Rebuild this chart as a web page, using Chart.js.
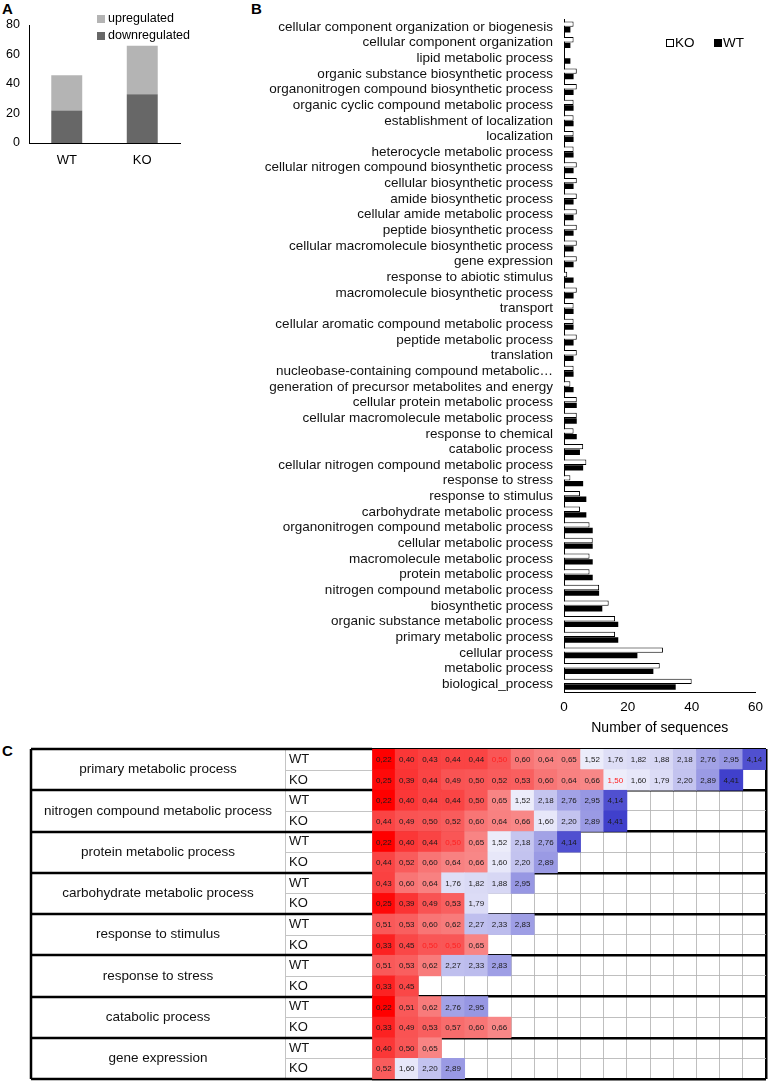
<!DOCTYPE html>
<html>
<head>
<meta charset="utf-8">
<script src="https://cdn.jsdelivr.net/npm/chart.js@4.4.1/dist/chart.umd.min.js"></script>
<style>
  body { margin: 0; background: #fff; }
  #page { position: relative; width: 770px; height: 1081px; overflow: hidden; font-family: "Liberation Sans", Arial, sans-serif; }
  .panel { position: absolute; font-weight: bold; font-size: 15px; color: #000; }
  canvas { position: absolute; }
</style>
</head>
<body>
<div id="page">
  <div class="panel" style="left:2px;top:0px">A</div>
  <div class="panel" style="left:251px;top:0px">B</div>
  <div class="panel" style="left:2px;top:742px">C</div>
  <canvas id="chartA" width="200" height="175" style="left:0;top:0"></canvas>
  <canvas id="chartB" width="540" height="740" style="left:230px;top:0"></canvas>
  <canvas id="chartC" width="770" height="341" style="left:0;top:740px"></canvas>
</div>
<script>
// panel A
const groupsA = ["WT", "KO"];
const downregulated = [22, 33];
const upregulated = [24, 33];

// panel B, top to bottom
const processesB = [
  "cellular component organization or biogenesis",
  "cellular component organization",
  "lipid metabolic process",
  "organic substance biosynthetic process",
  "organonitrogen compound biosynthetic process",
  "organic cyclic compound metabolic process",
  "establishment of localization",
  "localization",
  "heterocycle metabolic process",
  "cellular nitrogen compound biosynthetic process",
  "cellular biosynthetic process",
  "amide biosynthetic process",
  "cellular amide metabolic process",
  "peptide biosynthetic process",
  "cellular macromolecule biosynthetic process",
  "gene expression",
  "response to abiotic stimulus",
  "macromolecule biosynthetic process",
  "transport",
  "cellular aromatic compound metabolic process",
  "peptide metabolic process",
  "translation",
  "nucleobase-containing compound metabolic\u2026",
  "generation of precursor metabolites and energy",
  "cellular protein metabolic process",
  "cellular macromolecule metabolic process",
  "response to chemical",
  "catabolic process",
  "cellular nitrogen compound metabolic process",
  "response to stress",
  "response to stimulus",
  "carbohydrate metabolic process",
  "organonitrogen compound metabolic process",
  "cellular metabolic process",
  "macromolecule metabolic process",
  "protein metabolic process",
  "nitrogen compound metabolic process",
  "biosynthetic process",
  "organic substance metabolic process",
  "primary metabolic process",
  "cellular process",
  "metabolic process",
  "biological_process"
];
const koCounts = [3, 3, 0, 4, 4, 3, 3, 3, 3, 4, 4, 4, 4, 4, 4, 4, 1, 4, 3, 3, 4, 4, 3, 2, 4, 4, 3, 6, 7, 2, 5, 5, 8, 9, 8, 8, 11, 14, 16, 16, 31, 30, 40];
const wtCounts = [2, 2, 2, 3, 3, 3, 3, 3, 3, 3, 3, 3, 3, 3, 3, 3, 3, 3, 3, 3, 3, 3, 3, 3, 4, 4, 4, 5, 6, 6, 7, 7, 9, 9, 9, 9, 11, 12, 17, 17, 23, 28, 35];

// panel C
const groupNames = [
  "primary metabolic process",
  "nitrogen compound metabolic process",
  "protein metabolic process",
  "carbohydrate metabolic process",
  "response to stimulus",
  "response to stress",
  "catabolic process",
  "gene expression"
];
const arms = ["WT", "KO"];
const primaryWT = [0.22, 0.40, 0.43, 0.44, 0.44, 0.50, 0.60, 0.64, 0.65, 1.52, 1.76, 1.82, 1.88, 2.18, 2.76, 2.95, 4.14];
const primaryKO = [0.25, 0.39, 0.44, 0.49, 0.50, 0.52, 0.53, 0.60, 0.64, 0.66, 1.50, 1.60, 1.79, 2.20, 2.89, 4.41];
const nitrogenWT = [0.22, 0.40, 0.44, 0.44, 0.50, 0.65, 1.52, 2.18, 2.76, 2.95, 4.14];
const nitrogenKO = [0.44, 0.49, 0.50, 0.52, 0.60, 0.64, 0.66, 1.60, 2.20, 2.89, 4.41];
const proteinWT = [0.22, 0.40, 0.44, 0.50, 0.65, 1.52, 2.18, 2.76, 4.14];
const proteinKO = [0.44, 0.52, 0.60, 0.64, 0.66, 1.60, 2.20, 2.89];
const carbohydrateWT = [0.43, 0.60, 0.64, 1.76, 1.82, 1.88, 2.95];
const carbohydrateKO = [0.25, 0.39, 0.49, 0.53, 1.79];
const stimulusWT = [0.51, 0.53, 0.60, 0.62, 2.27, 2.33, 2.83];
const stimulusKO = [0.33, 0.45, 0.50, 0.50, 0.65];
const stressWT = [0.51, 0.53, 0.62, 2.27, 2.33, 2.83];
const stressKO = [0.33, 0.45];
const catabolicWT = [0.22, 0.51, 0.62, 2.76, 2.95];
const catabolicKO = [0.33, 0.49, 0.53, 0.57, 0.60, 0.66];
const geneExprWT = [0.40, 0.50, 0.65];
const geneExprKO = [0.52, 1.60, 2.20, 2.89];
// [row, column] of values printed in red
const redCells = [[0, 5], [1, 10], [4, 3], [9, 2], [9, 3]];

const rowValues = [primaryWT, primaryKO, nitrogenWT, nitrogenKO, proteinWT, proteinKO,
  carbohydrateWT, carbohydrateKO, stimulusWT, stimulusKO, stressWT, stressKO,
  catabolicWT, catabolicKO, geneExprWT, geneExprKO];
const rowKeys = groupNames.flatMap(n => arms.map(a => n + " " + a));

Chart.defaults.font.family = '"Liberation Sans", Arial, sans-serif';
Chart.defaults.color = "#000";
Chart.defaults.animation = false;

// legend drawn inside the plot area
const floatLegend = {
  id: "floatLegend",
  afterDraw(chart, args, o) {
    const ctx = chart.ctx;
    let sets = chart.data.datasets.slice();
    if (o.reverse) sets.reverse();
    ctx.save();
    ctx.font = o.font;
    ctx.textBaseline = "middle";
    sets.forEach((ds, i) => {
      const x = o.x + (o.dir === "row" ? i * o.step : 0);
      const y = o.y + (o.dir === "row" ? 0 : i * o.step);
      ctx.fillStyle = ds.backgroundColor;
      ctx.fillRect(x, y - o.box / 2, o.box, o.box);
      if (ds.borderWidth) {
        ctx.strokeStyle = ds.borderColor;
        ctx.lineWidth = 1;
        ctx.strokeRect(x + 0.5, y - o.box / 2 + 0.5, o.box - 1, o.box - 1);
      }
      ctx.fillStyle = "#000";
      ctx.fillText(ds.label, x + o.box + o.gap, y);
    });
    ctx.restore();
  }
};

new Chart(document.getElementById("chartA"), {
  type: "bar",
  data: {
    labels: groupsA,
    datasets: [
      { label: "downregulated", data: downregulated, backgroundColor: "#676767", barPercentage: 0.41, categoryPercentage: 1 },
      { label: "upregulated", data: upregulated, backgroundColor: "#b4b4b4", barPercentage: 0.41, categoryPercentage: 1 }
    ]
  },
  options: {
    responsive: false,
    layout: { padding: { top: 25, right: 20, left: 0, bottom: 0 } },
    plugins: {
      legend: { display: false },
      tooltip: { enabled: false },
      floatLegend: { x: 97, y: 19, dir: "column", step: 17, box: 8, gap: 3, font: '12.5px "Liberation Sans", Arial, sans-serif', reverse: true }
    },
    scales: {
      x: {
        stacked: true,
        grid: { display: false, drawTicks: false },
        border: { color: "#000" },
        ticks: { padding: 10, font: { size: 13 } },
        afterFit: s => { s.height = 32; }
      },
      y: {
        stacked: true, min: 0, max: 80,
        grid: { display: false, drawTicks: false },
        border: { color: "#000" },
        ticks: { stepSize: 20, padding: 9, font: { size: 12.5 } },
        afterFit: s => { s.width = 29; }
      }
    }
  },
  plugins: [floatLegend]
});

new Chart(document.getElementById("chartB"), {
  type: "bar",
  data: {
    labels: processesB,
    datasets: [
      { label: "KO", data: koCounts, backgroundColor: "#fff", borderColor: "#000", borderWidth: 1, barPercentage: 0.95, categoryPercentage: 0.72 },
      { label: "WT", data: wtCounts, backgroundColor: "#000", borderColor: "#000", borderWidth: 0, barPercentage: 0.95, categoryPercentage: 0.72 }
    ]
  },
  options: {
    indexAxis: "y",
    responsive: false,
    layout: { padding: { top: 18, right: 9, left: 0, bottom: 0 } },
    plugins: {
      legend: { display: false },
      tooltip: { enabled: false },
      floatLegend: { x: 436, y: 43, dir: "row", step: 48, box: 8, gap: 1, font: '13.5px "Liberation Sans", Arial, sans-serif' }
    },
    scales: {
      x: {
        min: 0, max: 60,
        grid: { display: false, drawTicks: false },
        border: { color: "#000" },
        ticks: { stepSize: 20, padding: 7, font: { size: 13.5 } },
        title: { display: true, text: "Number of sequences", font: { size: 14 }, padding: { top: 0, bottom: 3 } },
        afterFit: s => { s.height = 48; }
      },
      y: {
        grid: { display: false, drawTicks: false },
        border: { color: "#000" },
        ticks: { autoSkip: false, padding: 11, font: { size: 13.5 }, color: "#111" },
        afterFit: s => { s.width = 334; }
      }
    }
  },
  plugins: [floatLegend]
});

// red -> white -> blue scale like the spreadsheet
function cellColor(v) {
  if (v < 1.1) {
    const t = Math.min(1, Math.max(0, (v - 0.22) / (1.05 - 0.22)));
    const g = Math.round(t * 255);
    return `rgb(${Math.round(255 - 7 * Math.sin(t * Math.PI))},${g},${g})`;
  }
  const t = Math.min(1, Math.max(0, (v - 1.2) / (4.41 - 1.2)));
  const rg = Math.round(255 - t * (255 - 64));
  const b = Math.round(255 - t * (255 - 204));
  return `rgb(${rg},${rg},${b})`;
}

const cells = rowValues.flatMap((vals, r) => vals.map((v, c) => ({ x: [c, c + 1], y: rowKeys[r], v: v, r: r, c: c })));

const cellText = {
  id: "cellText",
  afterDraw(chart) {
    const ctx = chart.ctx;
    const meta = chart.getDatasetMeta(0);
    const data = chart.data.datasets[0].data;
    ctx.save();
    ctx.font = '8px "Liberation Sans", Arial, sans-serif';
    ctx.textAlign = "center";
    ctx.textBaseline = "middle";
    meta.data.forEach((el, i) => {
      const d = data[i];
      const p = el.getCenterPoint();
      const red = redCells.some(rc => rc[0] === d.r && rc[1] === d.c);
      ctx.fillStyle = red ? "#ff2020" : "#1a1a1a";
      ctx.fillText(d.v.toFixed(2).replace(".", ","), p.x, p.y + 0.5);
    });
    ctx.restore();
  }
};

// merged name column and WT/KO column left of the value grid
const tableSide = {
  id: "tableSide",
  afterDraw(chart, args, o) {
    const { ctx, chartArea } = chart;
    const y = chart.scales.y;
    const rowH = y.getPixelForValue(1) - y.getPixelForValue(0);
    const inner = chartArea.left;
    ctx.save();
    ctx.strokeStyle = "#c4c4c4";
    ctx.lineWidth = 1;
    ctx.beginPath();
    ctx.moveTo(o.split + 0.5, chartArea.top);
    ctx.lineTo(o.split + 0.5, chartArea.bottom);
    groupNames.forEach((n, g) => {
      const mid = Math.round(y.getPixelForValue(2 * g) + rowH / 2) + 0.5;
      ctx.moveTo(o.split, mid);
      ctx.lineTo(inner, mid);
    });
    ctx.stroke();
    ctx.strokeStyle = "#000";
    ctx.lineWidth = 2.5;
    ctx.beginPath();
    for (let g = 0; g <= groupNames.length; g++) {
      const yb = g < groupNames.length ? y.getPixelForValue(2 * g) - rowH / 2 : chartArea.bottom;
      ctx.moveTo(o.left, Math.round(yb));
      ctx.lineTo(inner, Math.round(yb));
    }
    ctx.moveTo(o.left, chartArea.top);
    ctx.lineTo(o.left, chartArea.bottom);
    ctx.stroke();
    ctx.fillStyle = "#111";
    ctx.textBaseline = "middle";
    groupNames.forEach((n, g) => {
      const cy = y.getPixelForValue(2 * g) + rowH / 2;
      ctx.font = '13.5px "Liberation Sans", Arial, sans-serif';
      ctx.textAlign = "center";
      ctx.fillText(n, (o.left + o.split) / 2, cy);
      ctx.font = '13px "Liberation Sans", Arial, sans-serif';
      ctx.textAlign = "left";
      arms.forEach((a, k) => ctx.fillText(a, o.split + 4, y.getPixelForValue(2 * g + k)));
    });
    ctx.restore();
  }
};

const isEdge = ctx => ctx.index === undefined || ctx.index % 2 === 0;

new Chart(document.getElementById("chartC"), {
  type: "bar",
  data: {
    labels: rowKeys,
    datasets: [{
      data: cells,
      backgroundColor: ctx => ctx.raw ? cellColor(ctx.raw.v) : "#fff",
      borderWidth: 0,
      barPercentage: 1,
      categoryPercentage: 1
    }]
  },
  options: {
    indexAxis: "y",
    responsive: false,
    layout: { padding: { left: 372, right: 4, top: 9, bottom: 2 } },
    plugins: {
      legend: { display: false },
      tooltip: { enabled: false },
      tableSide: { left: 31, split: 285 }
    },
    scales: {
      x: {
        type: "linear", min: 0, max: 17, z: 1,
        ticks: { display: false, stepSize: 1 },
        border: { display: false },
        grid: {
          drawTicks: false,
          color: ctx => ctx.tick && ctx.tick.value === 17 ? "#000" : "rgba(180,180,180,0.85)",
          lineWidth: ctx => ctx.tick && ctx.tick.value === 17 ? 2.5 : 1
        },
        afterFit: s => { s.height = 0; }
      },
      y: {
        z: 1,
        ticks: { display: false },
        border: { display: false },
        grid: {
          offset: true,
          drawTicks: false,
          color: ctx => isEdge(ctx) ? "#000" : "rgba(180,180,180,0.85)",
          lineWidth: ctx => isEdge(ctx) ? 2.5 : 1
        },
        afterFit: s => { s.width = 0; }
      }
    }
  },
  plugins: [cellText, tableSide]
});
</script>
</body>
</html>
